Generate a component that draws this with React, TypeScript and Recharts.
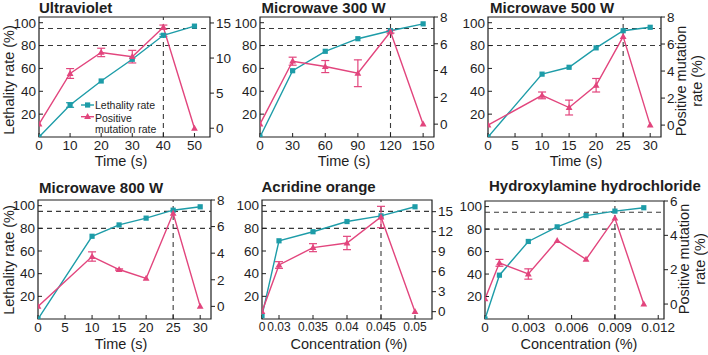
import React from 'react';
import { LineChart, Line, XAxis, YAxis, ReferenceLine, ReferenceArea, ErrorBar, Legend } from 'recharts';

const FONT = '"Liberation Sans", Arial, Helvetica, sans-serif';
const TEAL = '#1d9ca8';
const PINK = '#e2457d';
const INK = '#1e1e1e';
const GUIDE = '#3a3a3a';

const LETHALITY = 'Lethality rate';
const MUTATION = 'Positive mutation rate';

// Ultraviolet
const uvTime = [0, 10, 20, 30, 40, 50];
const uvLethality = [0, 28, 49, 68, 89, 97];
const uvLethalityErr = [0, 2, 0, 0, 1, 0];
const uvMutation = [0.6, 7.8, 10.8, 10.2, 14.4, 0];
const uvMutationErr = [0, 0.7, 0.6, 0.9, 0.3, 0];

// Microwave 300 W
const mw300Time = [0, 30, 60, 90, 120, 150];
const mw300Lethality = [0, 58, 75, 86, 93, 99];
const mw300Mutation = [0, 4.7, 4.3, 3.8, 6.9, 0];
const mw300MutationErr = [0, 0.3, 0.45, 1.0, 0.1, 0];

// Microwave 500 W
const mw500Time = [0, 10, 15, 20, 25, 30];
const mw500Lethality = [0, 55, 61, 78, 93, 96];
const mw500Mutation = [0, 2.2, 1.3, 2.95, 6.55, 0];
const mw500MutationErr = [0, 0.25, 0.55, 0.5, 0, 0];

// Microwave 800 W
const mw800Time = [0, 10, 15, 20, 25, 30];
const mw800Lethality = [0, 73, 83, 89, 96, 99];
const mw800Mutation = [0, 3.75, 2.77, 2.1, 7.0, 0];
const mw800MutationErr = [0, 0.35, 0.05, 0, 0, 0];

// Acridine orange (axis is broken between 0 and 0.03)
const aoConc = [0, 0.03, 0.035, 0.04, 0.045, 0.05];
const aoLethality = [3, 69, 77, 86, 91, 99];
const aoMutation = [0, 7.0, 9.6, 10.3, 14.2, 0];
const aoMutationErr = [0, 0.5, 0.6, 1.0, 1.6, 0];
const aoTickLabels = ['0', '0.03', '0.035', '0.04', '0.045', '0.05'];

// Hydroxylamine hydrochloride
const hhConc = [0, 0.001, 0.003, 0.005, 0.007, 0.009, 0.011];
const hhLethality = [0, 39, 69, 82, 92, 96, 99];
const hhMutation = [0.3, 2.4, 1.75, 3.7, 2.6, 5.0, 0];
const hhMutationErr = [0, 0.2, 0.3, 0, 0, 0, 0];
const hhTicks = [0, 0.003, 0.006, 0.009, 0.012];

const lethalityTicks = [20, 40, 60, 80, 100];
const mutationTicks8 = [0, 2, 4, 6, 8];

// broken axis: 0 sits half a step left of 0.03, then 0.005 per step
const aoPos = (c: number) => (c === 0 ? 0 : (c - 0.0275) / 0.005);
const aoPositions = aoConc.map(aoPos);

type Row = { x: number; leth: number; lethErr: number; mut: number; mutErr: number };

const rows = (x: number[], leth: number[], mut: number[], mutErr: number[], lethErr?: number[]): Row[] =>
  x.map((v, i) => ({ x: v, leth: leth[i], lethErr: lethErr ? lethErr[i] : 0, mut: mut[i], mutErr: mutErr[i] }));

type PanelSpec = {
  box: [number, number, number, number];
  data: Row[];
  xDomain: [number, number];
  xTicks: number[];
  xFormat?: (v: number) => string;
  xFont?: number;
  rightDomain: [number, number];
  rightTicks: number[];
  cutoff: number;
  legend?: boolean;
};

const LW = 34;
const RW = 30;
const PT = 6;
const XH = 26;

const squareDot = (p: any) =>
  p.cx == null ? <g key={p.index} /> : <rect key={p.index} x={p.cx - 2.6} y={p.cy - 2.6} width={5.2} height={5.2} fill={TEAL} />;

const triangleDot = (p: any) =>
  p.cx == null ? (
    <g key={p.index} />
  ) : (
    <path key={p.index} d={`M${p.cx},${p.cy - 3.6}L${p.cx + 3.4},${p.cy + 2.4}L${p.cx - 3.4},${p.cy + 2.4}Z`} fill={PINK} />
  );

function LegendBox() {
  const txt = { fontSize: 10.5, fontFamily: FONT, fill: INK };
  return (
    <svg width={86} height={38} style={{ display: 'block', overflow: 'visible' }}>
      <line x1={3} x2={16} y1={5} y2={5} stroke={TEAL} strokeWidth={1.4} />
      <rect x={7} y={2.4} width={5.2} height={5.2} fill={TEAL} />
      <text x={17} y={9} {...txt}>{LETHALITY}</text>
      <line x1={3} x2={16} y1={16.7} y2={16.7} stroke={PINK} strokeWidth={1.4} />
      <path d="M9.6,13.1L13,19.1L6.2,19.1Z" fill={PINK} />
      <text x={17} y={22} {...txt}>Positive</text>
      <text x={17} y={32.5} {...txt}>mutation rate</text>
    </svg>
  );
}

function Panel({ spec }: { spec: PanelSpec }) {
  const [x1, y1, x2, y2] = spec.box;
  const width = x2 - x1 + LW + RW;
  const height = y2 - y1 + PT + XH;
  const tick = { fill: INK, fontSize: 13.5, fontFamily: FONT };
  return (
    <div style={{ position: 'absolute', left: x1 - LW, top: y1 - PT }}>
      <LineChart width={width} height={height} data={spec.data} margin={{ top: PT, right: 0, bottom: 0, left: 0 }}>
        <XAxis
          type="number"
          dataKey="x"
          domain={spec.xDomain}
          ticks={spec.xTicks}
          interval={0}
          allowDataOverflow
          tickFormatter={spec.xFormat}
          height={XH}
          axisLine={false}
          tickSize={-4}
          tickMargin={7}
          tickLine={{ stroke: INK }}
          tick={{ ...tick, fontSize: spec.xFont ?? 13.5 }}
        />
        <YAxis
          yAxisId="left"
          domain={[0, 105]}
          ticks={lethalityTicks}
          interval={0}
          allowDataOverflow
          width={LW}
          axisLine={false}
          tickSize={-4}
          tickMargin={7}
          tickLine={{ stroke: INK }}
          tick={tick}
        />
        <YAxis
          yAxisId="right"
          orientation="right"
          domain={spec.rightDomain}
          ticks={spec.rightTicks}
          interval={0}
          allowDataOverflow
          width={RW}
          axisLine={false}
          tickSize={4}
          tickMargin={2}
          tickLine={{ stroke: INK }}
          tick={tick}
        />
        <ReferenceArea
          yAxisId="left"
          x1={spec.xDomain[0]}
          x2={spec.xDomain[1]}
          y1={0}
          y2={105}
          fill="none"
          stroke={INK}
          strokeWidth={1.2}
          ifOverflow="visible"
        />
        <ReferenceLine yAxisId="left" y={95} stroke={GUIDE} strokeDasharray="5 4" strokeWidth={1.1} />
        <ReferenceLine yAxisId="left" y={80} stroke={GUIDE} strokeDasharray="5 4" strokeWidth={1.1} />
        <ReferenceLine yAxisId="left" x={spec.cutoff} stroke={GUIDE} strokeDasharray="5 4" strokeWidth={1.1} />
        <Line
          yAxisId="left"
          name={LETHALITY}
          dataKey="leth"
          stroke={TEAL}
          strokeWidth={1.4}
          dot={squareDot}
          isAnimationActive={false}
        >
          <ErrorBar dataKey="lethErr" width={4} stroke={TEAL} strokeWidth={1.2} direction="y" />
        </Line>
        <Line
          yAxisId="right"
          name={MUTATION}
          dataKey="mut"
          stroke={PINK}
          strokeWidth={1.4}
          dot={triangleDot}
          isAnimationActive={false}
        >
          <ErrorBar dataKey="mutErr" width={4} stroke={PINK} strokeWidth={1.2} direction="y" />
        </Line>
        {spec.legend && (
          <Legend
            layout="vertical"
            align="center"
            verticalAlign="middle"
            content={() => <LegendBox />}
            wrapperStyle={{ left: 78 - (x1 - LW), top: 100 - (y1 - PT), width: 'auto', height: 'auto' }}
          />
        )}
      </LineChart>
    </div>
  );
}

const panels: PanelSpec[] = [
  {
    box: [39, 17, 210, 137],
    data: rows(uvTime, uvLethality, uvMutation, uvMutationErr, uvLethalityErr),
    xDomain: [0, 55],
    xTicks: uvTime,
    rightDomain: [-1.25, 15.85],
    rightTicks: [0, 5, 10, 15],
    cutoff: 40,
    legend: true,
  },
  {
    box: [260, 17, 434, 137],
    data: rows(mw300Time, mw300Lethality, mw300Mutation, mw300MutationErr),
    xDomain: [0, 160],
    xTicks: mw300Time,
    rightDomain: [-0.96, 8],
    rightTicks: mutationTicks8,
    cutoff: 120,
  },
  {
    box: [488, 17, 661, 137],
    data: rows(mw500Time, mw500Lethality, mw500Mutation, mw500MutationErr),
    xDomain: [0, 32],
    xTicks: [0, 5, 10, 15, 20, 25, 30],
    rightDomain: [-0.88, 8],
    rightTicks: mutationTicks8,
    cutoff: 25,
  },
  {
    box: [38, 200, 211, 319],
    data: rows(mw800Time, mw800Lethality, mw800Mutation, mw800MutationErr),
    xDomain: [0, 32],
    xTicks: [0, 5, 10, 15, 20, 25, 30],
    rightDomain: [-0.95, 8],
    rightTicks: mutationTicks8,
    cutoff: 25,
  },
  {
    box: [262, 200, 432, 319],
    data: rows(aoPositions, aoLethality, aoMutation, aoMutationErr),
    xDomain: [0, 5],
    xTicks: aoPositions,
    xFormat: (v: number) => aoTickLabels[aoPositions.indexOf(v)] ?? '',
    xFont: 12,
    rightDomain: [-1.1, 16.75],
    rightTicks: [0, 3, 6, 9, 12, 15],
    cutoff: aoPos(0.045),
  },
  {
    box: [485, 201, 664, 319],
    data: rows(hhConc, hhLethality, hhMutation, hhMutationErr),
    xDomain: [0, 0.0124],
    xTicks: hhTicks,
    xFormat: (v: number) => (v === 0 ? '0' : v.toFixed(3)),
    rightDomain: [-0.87, 6],
    rightTicks: [0, 2, 4, 6],
    cutoff: 0.009,
  },
];

const titles: [string, number, number][] = [
  ['Ultraviolet', 39, 12.5],
  ['Microwave 300 W', 261.5, 12.5],
  ['Microwave 500 W', 490, 12.5],
  ['Microwave 800 W', 39, 192.5],
  ['Acridine orange', 261.5, 192],
  ['Hydroxylamine hydrochloride', 489, 190.5],
];

const xTitles: [string, number, number][] = [
  ['Time (s)', 121, 166],
  ['Time (s)', 344, 166],
  ['Time (s)', 576, 166],
  ['Time (s)', 121, 349],
  ['Concentration (%)', 349, 349],
  ['Concentration (%)', 579, 349],
];

export default function App() {
  const axisTitle = { fontSize: 14.5, fontFamily: FONT, fill: INK };
  return (
    <div style={{ position: 'absolute', left: 0, top: 0, width: 708, height: 355, background: '#fff', overflow: 'hidden' }}>
      {panels.map((p, i) => (
        <Panel key={i} spec={p} />
      ))}
      <svg width={708} height={355} style={{ position: 'absolute', left: 0, top: 0, pointerEvents: 'none' }}>
        {titles.map(([t, x, y]) => (
          <text key={t} x={x} y={y} fontSize={15} fontWeight="bold" fontFamily={FONT} fill={INK}>
            {t}
          </text>
        ))}
        {xTitles.map(([t, x, y], i) => (
          <text key={i} x={x} y={y} textAnchor="middle" {...axisTitle}>
            {t}
          </text>
        ))}
        {[80, 260].map((cy) => (
          <text key={cy} transform={`translate(14, ${cy}) rotate(-90)`} textAnchor="middle" {...axisTitle}>
            Lethality rate (%)
          </text>
        ))}
        {[
          [686, 81],
          [689, 259],
        ].map(([bx, cy]) => (
          <g key={cy}>
            <text transform={`translate(${bx}, ${cy}) rotate(-90)`} textAnchor="middle" {...axisTitle}>
              Positive mutation
            </text>
            <text transform={`translate(${bx + 15.5}, ${cy}) rotate(-90)`} textAnchor="middle" {...axisTitle}>
              rate (%)
            </text>
          </g>
        ))}
      </svg>
    </div>
  );
}
